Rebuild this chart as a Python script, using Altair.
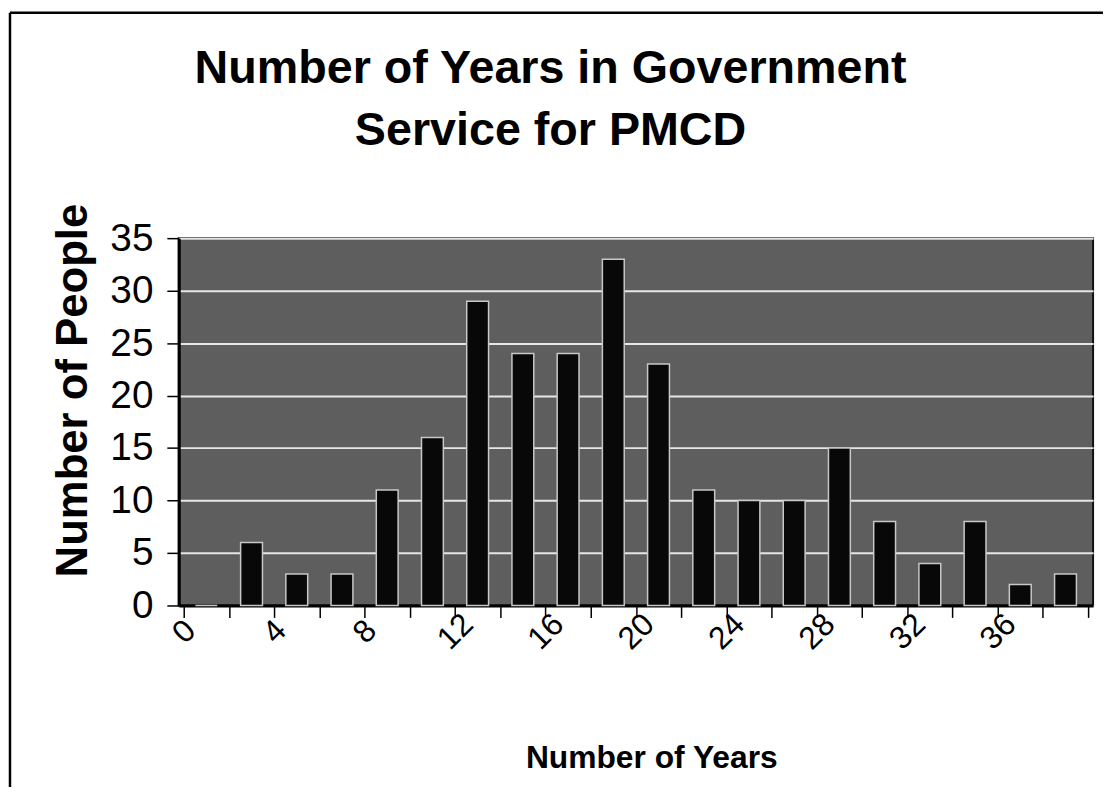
import altair as alt
import pandas as pd

# Category start (years), 2-year bins
bin_start = [0, 2, 4, 6, 8, 10, 12, 14, 16, 18, 20, 22, 24, 26, 28, 30, 32, 34, 36, 38]
people = [0, 6, 3, 3, 11, 16, 29, 24, 24, 33, 23, 11, 10, 10, 15, 8, 4, 8, 2, 3]
x_tick_values = list(range(0, 41, 2))
y_tick_values = [0, 5, 10, 15, 20, 25, 30, 35]

df = pd.DataFrame({"start": bin_start, "people": people})

FONT = "Liberation Sans"

bars = alt.Chart(df).transform_calculate(
    mid="datum.start + 1"
).mark_bar(
    width=22, color="#080808", stroke="#c8c8c8", strokeWidth=1.5
).encode(
    x=alt.X(
        "mid:Q",
        scale=alt.Scale(domain=[0, 40], nice=False, zero=True),
        axis=alt.Axis(
            values=x_tick_values,
            labelExpr="(datum.value % 4 == 0 && datum.value < 40) ? datum.label : ''",
            labelAngle=-45,
            labelAlign="center",
            labelBaseline="middle",
            labelPadding=14,
            labelFont=FONT,
            labelFontSize=32,
            labelColor="#000",
            tickSize=12,
            tickColor="#000",
            tickWidth=1.5,
            domainColor="#000",
            domainWidth=3,
            grid=False,
            title="Number of Years",
            titleFont=FONT,
            titleFontSize=32,
            titleFontWeight="bold",
            titleColor="#000",
            titleX=476,
            titleY=163,
            titleAlign="center",
            titleBaseline="alphabetic",
            labelOverlap=False,
        ),
    ),
    y=alt.Y(
        "people:Q",
        scale=alt.Scale(domain=[0, 35], nice=False),
        axis=alt.Axis(
            values=y_tick_values,
            labelFont=FONT,
            labelFontSize=39,
            labelColor="#000",
            labelPadding=14,
            tickSize=12,
            tickColor="#000",
            tickWidth=1.5,
            domainColor="#000",
            domainWidth=3,
            grid=True,
            gridColor="#e6e6e6",
            gridWidth=2,
            title="Number of People",
            titleFont=FONT,
            titleFontSize=44,
            titleFontWeight="bold",
            titleColor="#000",
            titleX=-93,
            titleY=153,
            titleAlign="center",
            titleBaseline="alphabetic",
        ),
    ),
)

frame = alt.Chart(alt.Data(values=[{}])).mark_rule(
    color="#000", strokeWidth=2.5, clip=False
)
frame_left = frame.encode(x=alt.value(-170), y=alt.value(-227), y2=alt.value(570))
frame_top = frame.encode(x=alt.value(-170), x2=alt.value(940), y=alt.value(-227))

chart = alt.layer(bars, frame_left, frame_top).properties(
    width=921,
    height=370,
    autosize=alt.AutoSizeParams(type="none"),
    padding={"left": 172, "top": 229, "right": 10, "bottom": 180},
    title=alt.TitleParams(
        text=["Number of Years in Government", "Service for PMCD"],
        font=FONT,
        fontSize=47,
        fontWeight="bold",
        color="#000",
        lineHeight=62,
        anchor="middle",
        frame="group",
        baseline="bottom",
        dx=-86,
        offset=-191,
    ),
).configure(
    background="white"
).configure_view(
    fill="#5e5e5e", stroke="#111", strokeWidth=2
)

chart.save("out.html", embed_options={"renderer": "svg", "actions": False})
